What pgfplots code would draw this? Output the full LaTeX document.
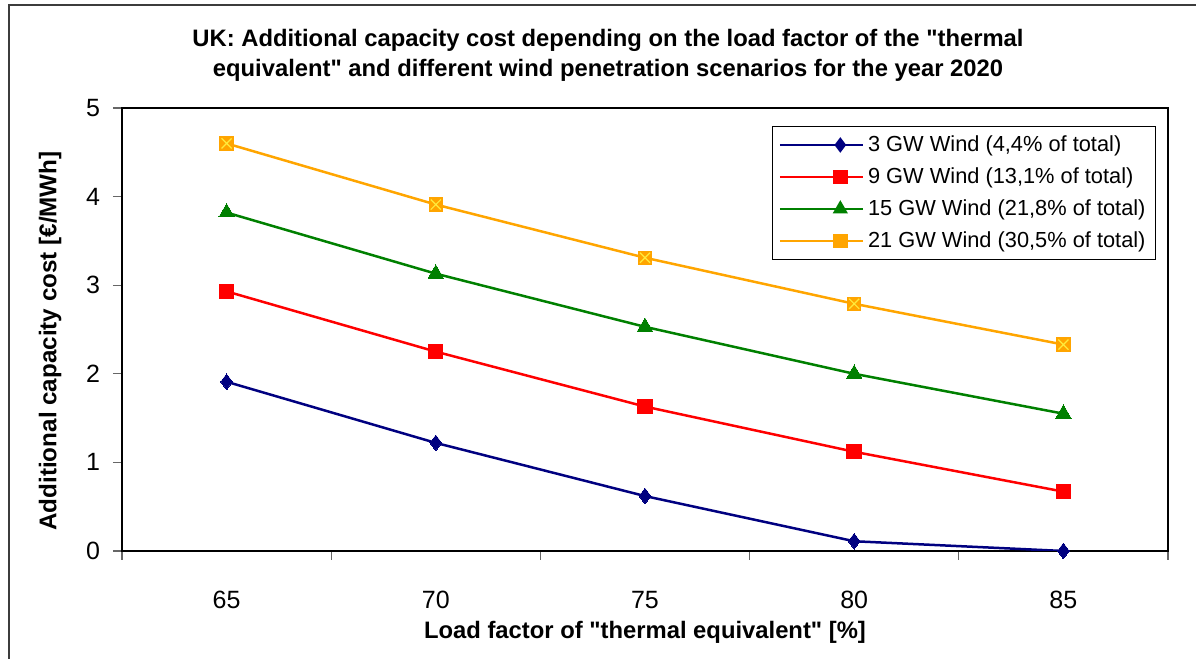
\documentclass[border=0pt]{standalone}
\usepackage{fontspec}
\setmainfont{Liberation Sans}
% same family without TeX ligatures, so that " stays a straight quote
\newfontfamily\plainq{Liberation Sans}
\usepackage{pgfplots}
\pgfplotsset{compat=1.18}

\definecolor{cnavy}{RGB}{0,0,128}
\definecolor{cred}{RGB}{255,0,0}
\definecolor{cgreen}{RGB}{0,128,0}
\definecolor{corange}{RGB}{255,165,0}
\definecolor{cyellow}{RGB}{255,235,60}
\definecolor{frame}{RGB}{60,60,60}
\newcommand\dq{{\plainq"}}

% filled orange square with a light cross on top
\pgfdeclareplotmark{sqx}{%
  \pgfpathrectangle{\pgfqpoint{-\pgfplotmarksize}{-\pgfplotmarksize}}{\pgfqpoint{2\pgfplotmarksize}{2\pgfplotmarksize}}%
  \pgfsetfillcolor{corange}\pgfusepathqfill
  \pgfsetstrokecolor{cyellow}\pgfsetlinewidth{0.6pt}%
  \pgfpathmoveto{\pgfqpoint{-0.7\pgfplotmarksize}{-0.7\pgfplotmarksize}}%
  \pgfpathlineto{\pgfqpoint{0.7\pgfplotmarksize}{0.7\pgfplotmarksize}}%
  \pgfpathmoveto{\pgfqpoint{-0.7\pgfplotmarksize}{0.7\pgfplotmarksize}}%
  \pgfpathlineto{\pgfqpoint{0.7\pgfplotmarksize}{-0.7\pgfplotmarksize}}%
  \pgfusepathqstroke
}

\begin{document}
\begin{tikzpicture}[x=1pt,y=1pt]
\useasboundingbox (0,0) rectangle (598,329.5);
% chart frame
\draw[frame, line width=1pt] (4.5,0) -- (4.5,327) -- (598,327);

\begin{axis}[
  at={(61pt,54pt)}, anchor=south west,
  scale only axis, width=523pt, height=221.5pt,
  xmin=-0.5, xmax=4.5, ymin=0, ymax=5,
  xtick={0,1,2,3,4},
  xticklabels={65,70,75,80,85},
  minor xtick={-0.5,0.5,1.5,2.5,3.5,4.5},
  major x tick style={draw=none},
  minor tick length=4.5pt,
  ytick={0,1,2,3,4,5},
  major tick length=4.5pt,
  tick align=outside,
  tick pos=left,
  axis line style={black, line width=0.8pt},
  tick style={black!60, line width=0.6pt},
  /pgf/number format/assume math mode=true,
  xticklabel style={font=\fontsize{12.5}{14}\selectfont, yshift=-12pt},
  yticklabel style={font=\fontsize{12.5}{14}\selectfont, xshift=-3pt},
  legend style={at={(0.6214,0.9594)}, anchor=north west,
    draw=black, line width=0.6pt, fill=white,
    font=\fontsize{10.9}{12}\selectfont,
    row sep=2.6pt, inner xsep=3pt, inner ysep=2.5pt},
  legend cell align=left,
  legend image code/.code={%
    \path (0pt,0pt) -- (40pt,0pt);
    \draw[#1] (19pt,0pt) -- (30pt,0pt) -- (41.5pt,0pt);
    \draw[#1, draw opacity=0] plot coordinates {(30.25pt,0pt)};},
]
\addplot[cnavy, line width=1.25pt, mark=diamond*, mark size=3.9pt, mark options={fill=cnavy, draw=cnavy, line width=0pt}]
  coordinates {(0,1.91) (1,1.22) (2,0.62) (3,0.11) (4,0.00)};
\addlegendentry{3 GW Wind (4,4\% of total)}
\addplot[cred, line width=1.25pt, mark=square*, mark size=3.6pt, mark options={fill=cred, draw=cred, line width=0pt}]
  coordinates {(0,2.93) (1,2.25) (2,1.63) (3,1.12) (4,0.67)};
\addlegendentry{9 GW Wind (13,1\% of total)}
\addplot[cgreen, line width=1.25pt, mark=triangle*, mark size=4.4pt, mark options={fill=cgreen, draw=cgreen, line width=0pt}]
  coordinates {(0,3.82) (1,3.13) (2,2.53) (3,2.00) (4,1.55)};
\addlegendentry{15 GW Wind (21,8\% of total)}
\addplot[corange, line width=1.25pt, mark=sqx, mark size=3.6pt]
  coordinates {(0,4.60) (1,3.91) (2,3.31) (3,2.79) (4,2.33)};
\addlegendentry{21 GW Wind (30,5\% of total)}
\end{axis}

% titles and axis labels
\node[align=center, font=\bfseries\fontsize{11.9}{15}\selectfont] at (304,302)
  {UK: Additional capacity cost depending on the load factor of the \dq thermal\\equivalent\dq{} and different wind penetration scenarios for the year 2020};
\node[rotate=90, font=\bfseries\fontsize{12.1}{14}\selectfont] at (25,159)
  {Additional capacity cost [€/MWh]};
\node[font=\bfseries\fontsize{11.9}{14}\selectfont] at (322.5,13.5)
  {Load factor of \dq thermal equivalent\dq{} [\%]};
\end{tikzpicture}
\end{document}
